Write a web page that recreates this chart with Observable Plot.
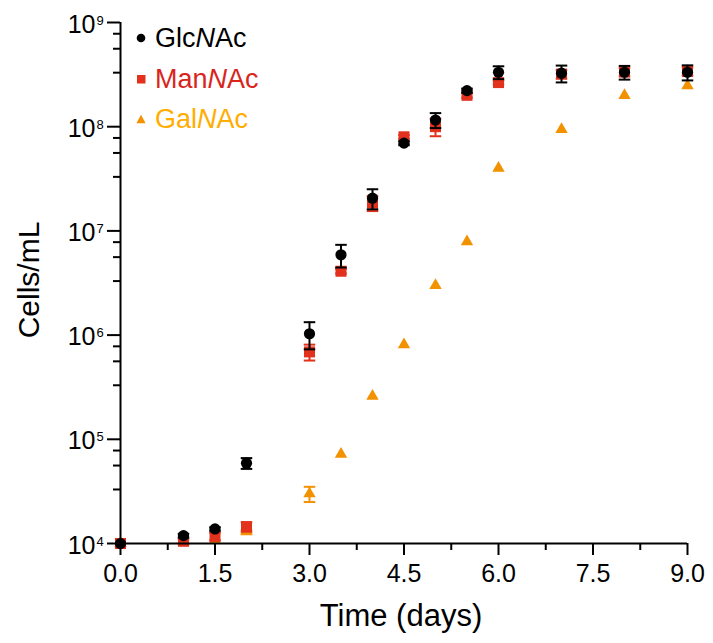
<!DOCTYPE html>
<html>
<head>
<meta charset="utf-8">
<script src="https://cdn.jsdelivr.net/npm/d3@7"></script>
<script src="https://cdn.jsdelivr.net/npm/@observablehq/plot@0.6"></script>
<style>
  body { margin: 0; background: #fff; }
  #wrap { position: relative; width: 713px; height: 643px; font-family: "Liberation Sans", Arial, sans-serif; }
  #legend .row { position: absolute; display: flex; align-items: center; font-size: 27px; line-height: 26px; height: 26px; white-space: nowrap; }
  #legend svg { display: block; margin-right: 9px; }
</style>
</head>
<body>
<div id="wrap"><div id="chart"></div><div id="legend"></div></div>
<script>
// ---- data ----
const days = [0, 1, 1.5, 2, 3, 3.5, 4, 4.5, 5, 5.5, 6, 7, 8, 9];

const glcnac    = [1.0e4, 1.19e4, 1.38e4, 5.9e4, 1.03e6, 5.9e6, 2.06e7, 6.95e7, 1.16e8, 2.22e8, 3.33e8, 3.26e8, 3.33e8, 3.33e8];
const glcnacErr = [0, 0.05e4, 0.05e4, 0.7e4, 0.3e6, 1.45e6, 4.5e6, 3e6, 1.9e7, 1e7, 4.7e7, 6e7, 5e7, 5.5e7];

const mannac    = [1.0e4, 1.05e4, 1.17e4, 1.45e4, 6.9e5, 4.1e6, 1.85e7, 8.0e7, 1.0e8, 2.0e8, 2.65e8, 3.2e8, 3.35e8, 3.4e8];
const mannacErr = [0, 0.05e4, 0.1e4, 0.15e4, 1.2e5, 0.2e6, 3e6, 3e6, 1.9e7, 1e7, 1e7, 3e7, 3e7, 3e7];

const galnac    = [1.0e4, 1.04e4, 1.07e4, 1.3e4, 3.0e4, 7.2e4, 2.6e5, 8.1e5, 3.0e6, 7.9e6, 4.0e7, 9.4e7, 2.0e8, 2.48e8];
const galnacErr = [0, 0, 0, 0.05e4, 0.5e4, 0, 0, 0, 0, 0, 0, 0, 0, 0];

const seriesNames  = ["GlcNAc", "ManNAc", "GalNAc"];
const markerColors = ["#000000", "#e2321d", "#f39200"];
const textColors   = ["#000000", "#d9251d", "#ffad00"];
const symbols      = ["circle", "square", "triangle"];

const xMajorTicks = [0, 1.5, 3, 4.5, 6, 7.5, 9];
const xMinorTicks = [0.75, 2.25, 3.75, 5.25, 6.75, 8.25];
const yExponents  = [4, 5, 6, 7, 8, 9];
const yMinorMultipliers = [3.3, 5.6, 7.8];

// ---- build tables ----
const seriesValues = [glcnac, mannac, galnac];
const seriesErrors = [glcnacErr, mannacErr, galnacErr];
const tables = seriesNames.map((name, s) => days.map((day, i) => ({
  day, value: seriesValues[s][i],
  lo: seriesValues[s][i] - seriesErrors[s][i],
  hi: seriesValues[s][i] + seriesErrors[s][i]
})));

const yMajor = yExponents.map(e => 10 ** e);
const yMinor = yExponents.slice(0, -1).flatMap(e => yMinorMultipliers.map(m => m * 10 ** e));

const capSymbol = { draw(ctx, size) { const w = Math.sqrt(size) / 2; ctx.moveTo(-w, 0); ctx.lineTo(w, 0); } };
const dotR = [5.6, 6.2, 4.6];

const seriesMarks = [];
for (let s = seriesNames.length - 1; s >= 0; s--) {
  const data = tables[s], c = markerColors[s];
  seriesMarks.push(
    Plot.ruleX(data.filter(d => d.hi > d.lo), {x: "day", y1: "lo", y2: "hi", stroke: c, strokeWidth: 2}),
    Plot.dot(data.filter(d => d.hi > d.lo).flatMap(d => [{day: d.day, v: d.lo}, {day: d.day, v: d.hi}]),
      {x: "day", y: "v", symbol: capSymbol, r: 6.5, fill: "none", stroke: c, strokeWidth: 2}),
    Plot.dot(data, {x: "day", y: "value", symbol: symbols[s], r: dotR[s], fill: c, stroke: "none"})
  );
}

const chart = Plot.plot({
  width: 713, height: 643,
  marginLeft: 120, marginRight: 26, marginTop: 22, marginBottom: 100,
  style: {fontFamily: '"Liberation Sans", Arial, sans-serif', background: "white", color: "black"},
  x: {domain: [0, 9], axis: null},
  y: {type: "log", domain: [1e4, 1e9], axis: null},
  marks: [
    ...seriesMarks,
    Plot.ruleY([1e4], {strokeWidth: 2}),
    Plot.ruleX([0], {strokeWidth: 2}),
    Plot.axisX({ticks: xMinorTicks, tickSize: 7, strokeWidth: 2, tickFormat: () => "", label: null}),
    Plot.axisX({ticks: xMajorTicks, tickSize: 12, tickPadding: 9, strokeWidth: 2, fontSize: 25,
      tickFormat: d => d.toFixed(1), label: null}),
    Plot.axisY({ticks: yMinor, tickSize: 7, strokeWidth: 2, tickFormat: () => "", label: null}),
    Plot.axisY({ticks: yMajor, tickSize: 13, strokeWidth: 2, tickFormat: () => "", label: null}),
    Plot.text(yMajor, {y: d => d, text: () => "10", frameAnchor: "left", textAnchor: "end", dx: -25, dy: 2, fontSize: 25}),
    Plot.text(yExponents, {y: e => 10 ** e, text: e => String(e), frameAnchor: "left", textAnchor: "start", dx: -24, dy: -2, fontSize: 13}),
    Plot.text(["Time (days)"], {text: d => d, frameAnchor: "bottom", textAnchor: "middle", dx: -3, dy: 73, fontSize: 31, lineAnchor: "middle"}),
    Plot.text(["Cells/mL"], {text: d => d, frameAnchor: "left", textAnchor: "middle", rotate: -90, dx: -91, dy: -3, fontSize: 30, lineAnchor: "middle"})
  ]
});
document.getElementById("chart").appendChild(chart);

// ---- legend (HTML overlay, italic N) ----
const legend = document.getElementById("legend");
const legendTops = [25, 66, 106];
seriesNames.forEach((name, s) => {
  const row = document.createElement("div");
  row.className = "row";
  row.style.left = "136px";
  row.style.top = legendTops[s] + "px";
  row.style.color = textColors[s];
  const shape = symbols[s] === "circle" ? `<circle cx="5" cy="5" r="4.3" fill="${markerColors[s]}"/>`
    : symbols[s] === "square" ? `<rect x="1" y="1" width="8.5" height="8.5" fill="${markerColors[s]}"/>`
    : `<path d="M5,0.8L9.6,9.2L0.4,9.2Z" fill="${markerColors[s]}"/>`;
  row.innerHTML = `<svg width="10" height="10">${shape}</svg><span>${name.replace("NAc", "<i>N</i>Ac")}</span>`;
  legend.appendChild(row);
});
</script>
</body>
</html>
